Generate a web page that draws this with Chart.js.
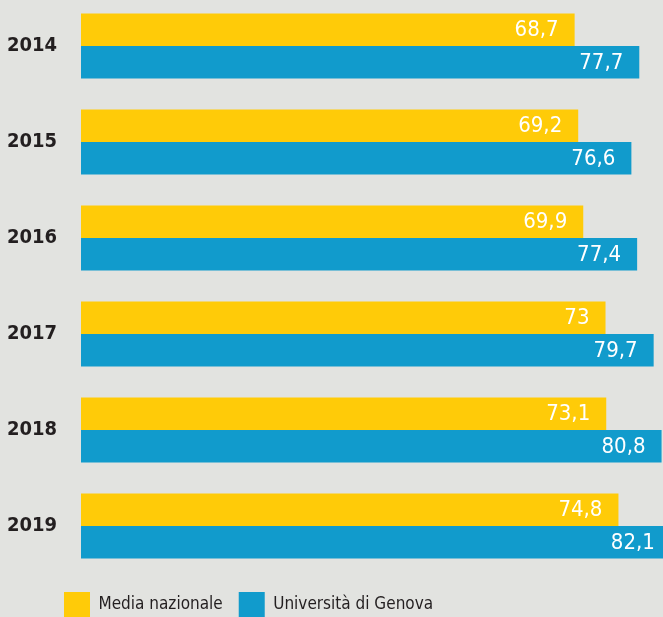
<!DOCTYPE html>
<html lang="it">
<head>
    <meta charset="UTF-8">
    <title>Media nazionale vs Università di Genova</title>
    <script src="https://cdn.jsdelivr.net/npm/chart.js"></script>
    <style>
        html, body {
            margin: 0;
            padding: 0;
            width: 663px;
            height: 617px;
            overflow: hidden;
            background-color: #e2e3e0;
        }

        #wrap {
            position: absolute;
            left: 0;
            top: -2px;
        }
    </style>
</head>
<body>
    <div id="wrap">
        <canvas id="chart" width="663" height="628"></canvas>
    </div>

    <script>
        const years = ["2014", "2015", "2016", "2017", "2018", "2019"];
        const mediaNazionale = [68.7, 69.2, 69.9, 73, 73.1, 74.8];
        const unige = [77.7, 76.6, 77.4, 79.7, 80.8, 82.1];
        const seriesNames = ["Media nazionale", "Università di Genova"];

        const FONT = "'Liberation Sans Narrow', 'DejaVu Sans Condensed', 'Arial Narrow', sans-serif";

        // white value labels at the end of each bar, with comma decimals
        const barValues = {
            id: "barValues",
            afterDatasetsDraw(chart) {
                const ctx = chart.ctx;
                ctx.save();
                ctx.font = "22px " + FONT;
                ctx.fillStyle = "#ffffff";
                ctx.textAlign = "right";
                ctx.textBaseline = "middle";
                chart.data.datasets.forEach((ds, i) => {
                    chart.getDatasetMeta(i).data.forEach((bar, j) => {
                        const label = String(ds.data[j]).replace(".", ",");
                        ctx.fillText(label, bar.x - 16, bar.y + 1);
                    });
                });
                ctx.restore();
            }
        };

        // legend in the original sits a bit right of the left edge
        const shiftLegend = {
            id: "shiftLegend",
            afterLayout(chart) {
                chart.legend.left += 48;
                chart.legend.right += 48;
                chart.legend.top += 2;
                chart.legend.bottom += 2;
            }
        };

        new Chart(document.getElementById("chart"), {
            type: "bar",
            data: {
                labels: years,
                datasets: [
                    {
                        label: seriesNames[0],
                        data: mediaNazionale,
                        backgroundColor: "#ffcb08"
                    },
                    {
                        label: seriesNames[1],
                        data: unige,
                        backgroundColor: "#119bcc"
                    }
                ]
            },
            options: {
                indexAxis: "y",
                responsive: false,
                animation: false,
                devicePixelRatio: 1,
                categoryPercentage: 0.677,
                barPercentage: 1,
                layout: { padding: 0 },
                scales: {
                    x: {
                        display: false,
                        min: 0,
                        max: 81
                    },
                    y: {
                        grid: { display: false, drawTicks: false },
                        border: { display: false },
                        ticks: {
                            padding: 24,
                            color: "#231f20",
                            font: { family: FONT, size: 20, weight: "bold" }
                        },
                        afterFit(scale) {
                            scale.width = 81;
                            scale.paddingTop = 0;
                            scale.paddingBottom = 0;
                        }
                    }
                },
                plugins: {
                    tooltip: { enabled: false },
                    legend: {
                        position: "bottom",
                        align: "start",
                        labels: {
                            boxWidth: 26,
                            boxHeight: 26,
                            padding: 16,
                            color: "#231f20",
                            font: { family: FONT, size: 17 }
                        }
                    }
                }
            },
            plugins: [barValues, shiftLegend]
        });
    </script>
</body>
</html>
